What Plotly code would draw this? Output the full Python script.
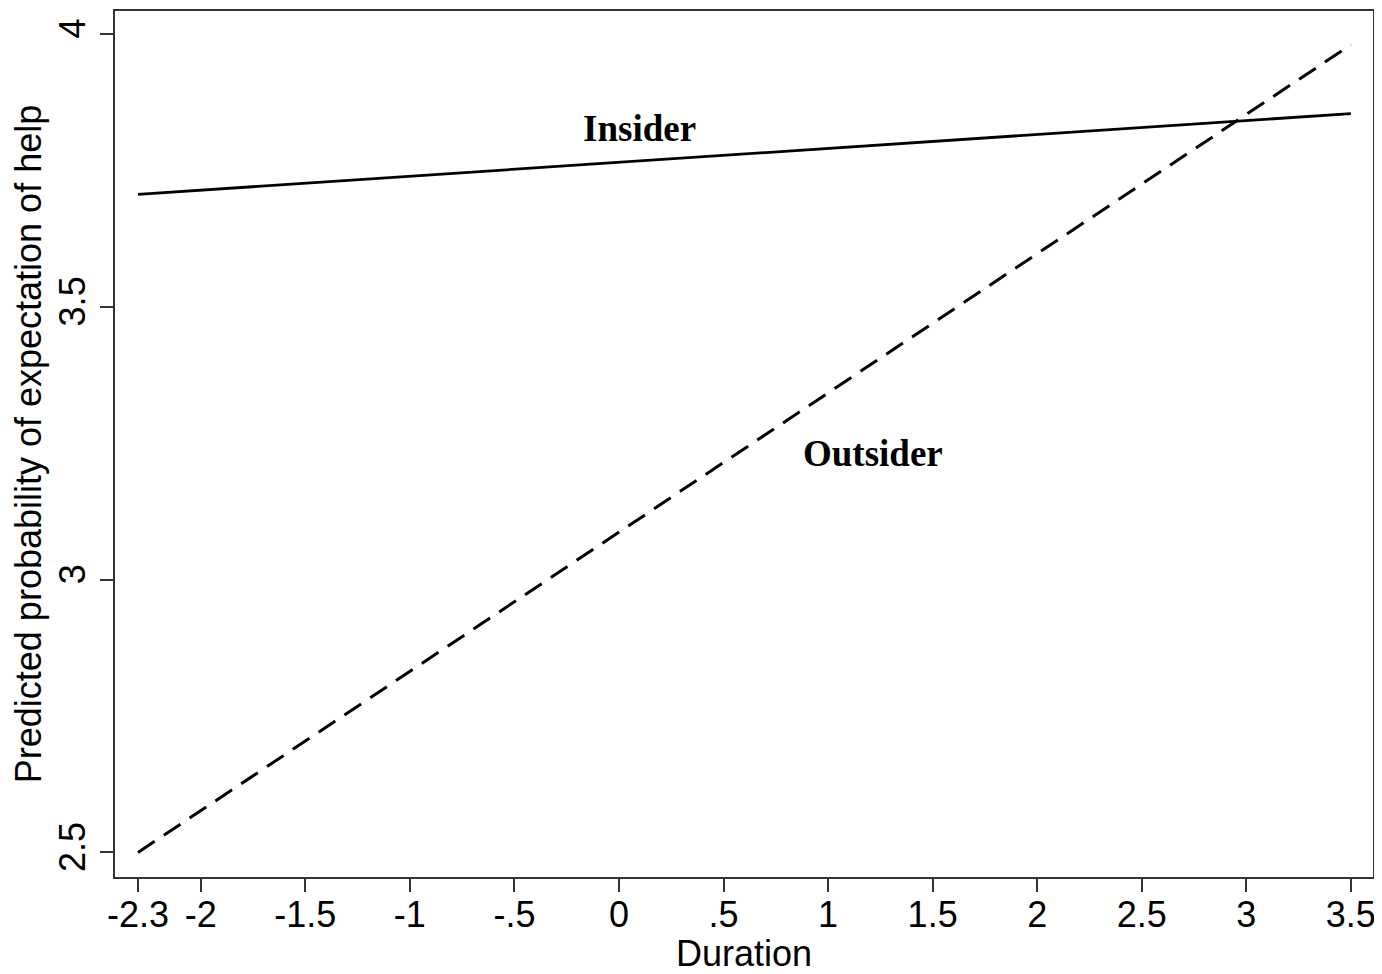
import plotly.graph_objects as go

duration = [-2.3, 3.5]
insider = [3.706, 3.854]
outsider = [2.5, 3.980]

x_ticks = [-2.3, -2, -1.5, -1, -0.5, 0, 0.5, 1, 1.5, 2, 2.5, 3, 3.5]
x_ticklabels = ["-2.3", "-2", "-1.5", "-1", "-.5", "0", ".5", "1", "1.5", "2", "2.5", "3", "3.5"]
y_ticks = [2.5, 3, 3.5, 4]
y_ticklabels = ["2.5", "3", "3.5", "4"]

labels = [("Insider", 0.10, 3.826), ("Outsider", 1.215, 3.232)]

fig = go.Figure()
fig.add_trace(go.Scatter(x=duration, y=insider, mode="lines",
                         line=dict(color="black", width=2.8), showlegend=False))
fig.add_trace(go.Scatter(x=duration, y=outsider, mode="lines",
                         line=dict(color="black", width=3, dash="20px,11px"), showlegend=False))

for text, lx, ly in labels:
    fig.add_annotation(x=lx, y=ly, text="<b>%s</b>" % text, showarrow=False,
                       font=dict(family="Liberation Serif", size=37, color="black"))

axis_common = dict(showline=True, linecolor="#333", linewidth=2, mirror=True,
                   ticks="outside", ticklen=13, tickwidth=2, tickcolor="#333",
                   showgrid=False, zeroline=False,
                   tickfont=dict(family="Liberation Sans", size=36, color="black"))

fig.update_xaxes(range=[-2.410, 3.606], tickvals=x_ticks, ticktext=x_ticklabels,
                 ticklabelstandoff=-8,
                 title=dict(text="Duration", standoff=2,
                            font=dict(family="Liberation Sans", size=36, color="black")),
                 **axis_common)
fig.update_yaxes(range=[2.455, 4.042], tickvals=y_ticks, ticktext=y_ticklabels,
                 tickangle=-90, ticklabelstandoff=1,
                 title=dict(text="Predicted probability of expectation of help", standoff=1,
                            font=dict(family="Liberation Sans", size=36, color="black")),
                 **axis_common)

# page body adds an 8px margin; compensate so the plot box lands where the reference has it
fig.update_layout(width=1374, height=966, plot_bgcolor="white", paper_bgcolor="white",
                  margin=dict(l=107, r=9, t=1, b=97))

fig.write_html("out.html")
